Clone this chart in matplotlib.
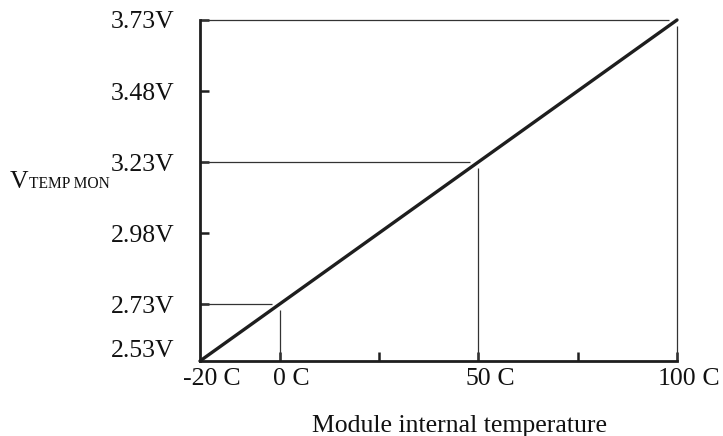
import matplotlib
matplotlib.use("Agg")
import matplotlib.pyplot as plt
import matplotlib.transforms as mtransforms

# ---- data ----
line_temps = [-20, 100]
line_volts = [2.53, 3.73]
guide_temps = [0, 50, 100]
guide_volts = [2.73, 3.23, 3.73]
ytick_values = [2.53, 2.73, 2.98, 3.23, 3.48, 3.73]
ytick_labels = ["2.53V", "2.73V", "2.98V", "3.23V", "3.48V", "3.73V"]
xtick_marks = [0, 25, 50, 75, 100]
xlabel_values = [-20, 0, 50, 100]
xlabel_numbers = ["-20", "0", "50", "100"]
x_unit = " C"
xlabel_text = "Module internal temperature"
ylabel_main = "V"
ylabel_sub = "TEMP MON"

plt.rcParams['font.family'] = ['Liberation Serif', 'DejaVu Serif']
FS = 18.5
INK = "#1e1e1e"
TXT = "#111111"

fig = plt.figure(figsize=(7.23, 4.36), dpi=100)
ax = fig.add_axes([200/723, 75/436, 477/723, 341/436])
ax.set_xlim(line_temps[0], line_temps[-1])
ax.set_ylim(line_volts[0], line_volts[-1])

# spines
for s in ["top", "right"]:
    ax.spines[s].set_visible(False)
for s in ["left", "bottom"]:
    ax.spines[s].set_linewidth(2.0)
    ax.spines[s].set_color(INK)

# guide lines
gx = 2.0   # gap in data units (temperature)
gy = 0.022 # gap in volts
for t, v in zip(guide_temps, guide_volts):
    ax.plot([line_temps[0], t - gx], [v, v], color="#333333", lw=0.9, clip_on=False, solid_capstyle='butt')
    ax.plot([t, t], [line_volts[0], v - gy], color="#333333", lw=0.9, clip_on=False, solid_capstyle='butt')

# main line
ax.plot(line_temps, line_volts, color=INK, lw=2.4, clip_on=False, solid_capstyle='round', zorder=5)

# y ticks
ax.set_yticks(ytick_values)
ax.set_yticklabels(ytick_labels, fontsize=FS, color=TXT)
ax.tick_params(axis='y', direction='in', length=6.5, width=1.8, color=INK, pad=18.5)
ax.yaxis.get_major_ticks()[0].tick1line.set_visible(False)
lab0 = ax.get_yticklabels()[0]
lab0.set_transform(lab0.get_transform() + mtransforms.ScaledTranslation(0, 13/100, fig.dpi_scale_trans))

# x ticks
ax.set_xticks(xtick_marks)
ax.set_xticklabels([])
ax.tick_params(axis='x', direction='in', length=6.5, width=1.8, color=INK, labelbottom=False)

for xv, num in zip(xlabel_values, xlabel_numbers):
    t = ax.annotate(num, xy=(xv, 0), xycoords=('data', 'axes fraction'),
                    xytext=(0, -5), textcoords='offset points',
                    ha='center', va='top', fontsize=FS, color=TXT, annotation_clip=False)
    ax.annotate(x_unit, xy=(1, 0), xycoords=t, ha='left', va='bottom',
                fontsize=FS, color=TXT, annotation_clip=False)

# axis labels
fig.text(459/723, 4/436, xlabel_text, ha='center', va='baseline', fontsize=FS, color=TXT)
vt = fig.text(10, 248, ylabel_main, ha='left', va='baseline', fontsize=FS, color=TXT)
vt.set_transform(mtransforms.IdentityTransform())
ax.annotate(ylabel_sub, xy=(1, 248), xycoords=(vt, 'figure pixels'), ha='left', va='baseline',
            fontsize=11.2, color=TXT, annotation_clip=False)

fig.savefig("out.png", dpi=100, facecolor="white")
